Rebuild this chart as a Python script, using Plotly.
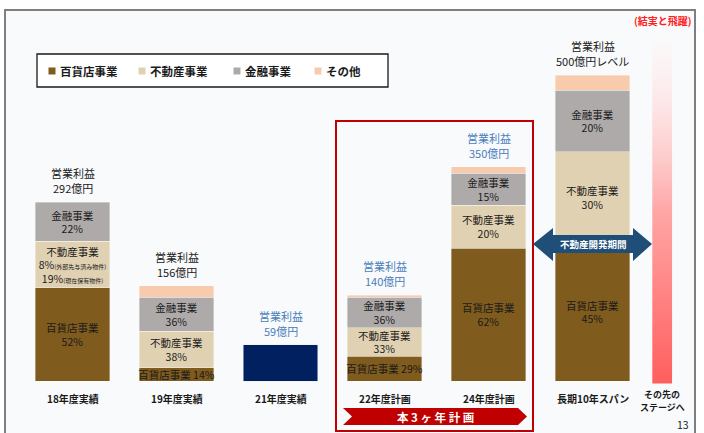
import plotly.graph_objects as go

# ---------------- data ----------------
categories = ["18年度実績", "19年度実績", "21年度実績", "22年度計画", "24年度計画", "長期10年スパン"]
totals = [292, 156, 59, 140, 350, 500]
total_head = ["営業利益"] * 6
total_values_text = ["292億円", "156億円", "59億円", "140億円", "350億円", "500億円レベル"]
total_label_colors = ["#1a1a1a", "#1a1a1a", "#4a7ebb", "#4a7ebb", "#4a7ebb", "#1a1a1a"]

series_names = ["百貨店事業", "不動産事業", "金融事業", "その他"]
series_colors = ["#7f5b1e", "#e0d1b2", "#aeaaaa", "#f8cbad"]

# segment values (億円)
dept = [152, 22, None, 40.6, 217, 225]
real = [76, 59, None, 46.2, 70, 150]
fin = [64, 56, None, 50.4, 52.5, 100]
other = [None, 19, None, 2.8, 10.5, 25]
result_21 = [None, None, 59, None, None, None]

dept_text = ["百貨店事業<br>52%", "百貨店事業 14%", "", "百貨店事業 29%", "百貨店事業<br>62%", "百貨店事業<br>45%"]
real_text = ["不動産事業<br>8%<span style='font-size:6px'>(外部先与済み物件)</span><br>19%<span style='font-size:6px'>(現在保有物件)</span>",
             "不動産事業<br>38%", "", "不動産事業<br>33%", "不動産事業<br>20%", "不動産事業<br>30%"]
fin_text = ["金融事業<br>22%", "金融事業<br>36%", "", "金融事業<br>36%", "金融事業<br>15%", "金融事業<br>20%"]
other_text = ["", "", "", "", "", ""]

next_stage_lines = ["その先の", "ステージへ"]
next_stage_x = 5.67
next_stage_height = 560

FONT = "Noto Sans CJK JP, Noto Sans, sans-serif"
W, H = 704, 433
BASE_PX = 381.0
PX_PER = 0.612
PITCH = 104.0
X0_PX = 72.5


def dx(px):
    return (px - X0_PX) / PITCH


def dy(py):
    return (BASE_PX - py) / PX_PER


def xp(px):
    return px / W


def yp(py):
    return 1 - py / H


xs = list(range(len(categories)))
fig = go.Figure()

seg_values = [dept, real, fin, other]
seg_texts = [dept_text, real_text, fin_text, other_text]
for name, color, vals, txt in zip(series_names, series_colors, seg_values, seg_texts):
    fig.add_trace(go.Bar(
        x=xs, y=vals, name=name, width=0.72,
        marker=dict(color=color, line=dict(color="rgba(255,255,255,0.6)", width=0.6)),
        text=txt, textposition="inside", insidetextanchor="middle", textangle=0,
        textfont=dict(family=FONT, size=10.5, color="#1a1a1a"),
        showlegend=False, hoverinfo="skip",
    ))

fig.add_trace(go.Bar(
    x=xs, y=result_21, name="21年度", width=0.72,
    marker=dict(color="#002060"), showlegend=False, hoverinfo="skip",
))

# gradient "next stage" bar
hw = 0.095
fig.add_trace(go.Scatter(
    x=[next_stage_x - hw, next_stage_x + hw, next_stage_x + hw, next_stage_x - hw, next_stage_x - hw],
    y=[-4, -4, next_stage_height, next_stage_height, -4],
    fill="toself", mode="none",
    fillgradient=dict(type="vertical",
                      colorscale=[[0, "#ff5e5e"], [0.5, "#ffa6a6"], [1, "rgba(255,245,245,0.3)"]]),
    showlegend=False, hoverinfo="skip",
))

annotations = []
# total labels (two lines as separate texts)
for x, t, head, val, col in zip(xs, totals, total_head, total_values_text, total_label_colors):
    annotations.append(dict(x=x, y=t, text=head, showarrow=False, xanchor="center", yanchor="middle",
                            yshift=29, font=dict(family=FONT, size=11, color=col)))
    annotations.append(dict(x=x, y=t, text=val, showarrow=False, xanchor="center", yanchor="middle",
                            yshift=14, font=dict(family=FONT, size=11, color=col)))
# category labels
for x, c in zip(xs, categories):
    annotations.append(dict(x=x, y=dy(398), text=c, showarrow=False, xanchor="center", yanchor="middle",
                            font=dict(family=FONT, size=10, color="#1a1a1a", weight="bold")))
for line, py in zip(next_stage_lines, [394, 407]):
    annotations.append(dict(x=next_stage_x, y=dy(py), text=line, showarrow=False,
                            xanchor="center", yanchor="middle",
                            font=dict(family=FONT, size=9, color="#1a1a1a", weight="bold")))

shapes = []
# slide frame
shapes.append(dict(type="rect", xref="paper", yref="paper", x0=xp(5), x1=xp(695), y0=-0.1, y1=yp(10),
                   line=dict(color="#7f7f7f", width=2), fillcolor="#f9fafc", layer="below"))
# custom legend
shapes.append(dict(type="rect", xref="paper", yref="paper", x0=xp(37), x1=xp(388), y0=yp(87), y1=yp(54),
                   line=dict(color="#1a1a1a", width=1.3), fillcolor="#ffffff", layer="below"))
legend_marker_px = [52, 142, 237, 318]
for name, color, mx in zip(series_names, series_colors, legend_marker_px):
    shapes.append(dict(type="rect", xref="paper", yref="paper", x0=xp(mx - 3.5), x1=xp(mx + 3.5),
                       y0=yp(74.5), y1=yp(67.5), line=dict(width=0), fillcolor=color))
    annotations.append(dict(xref="paper", yref="paper", x=xp(mx + 6), y=yp(71), text=name,
                            showarrow=False, xanchor="left", yanchor="middle",
                            font=dict(family=FONT, size=11.5, color="#1a1a1a", weight="bold")))

# red plan box
shapes.append(dict(type="rect", xref="paper", yref="paper", x0=xp(336), x1=xp(533), y0=yp(431), y1=yp(121),
                   line=dict(color="#c00000", width=2), fillcolor="rgba(0,0,0,0)"))
# banner
bx0, bx1, by0, by1 = 343, 527, 408, 425
bym = (by0 + by1) / 2
path = (f"M{xp(bx0)},{yp(by0)} L{xp(bx1 - 9)},{yp(by0)} L{xp(bx1)},{yp(bym)} L{xp(bx1 - 9)},{yp(by1)} "
        f"L{xp(bx0)},{yp(by1)} L{xp(bx0 + 9)},{yp(bym)} Z")
shapes.append(dict(type="path", xref="paper", yref="paper", path=path, fillcolor="#c00000",
                   line=dict(width=0)))
annotations.append(dict(xref="paper", yref="paper", x=xp(435), y=yp(416.5), text="本 3 ヶ 年 計 画",
                        showarrow=False, xanchor="center", yanchor="middle",
                        font=dict(family=FONT, size=11.5, color="white", weight="bold")))

# double arrow
ay0, ay1, am = 235, 253, 244
ah0, ah1 = 228, 261
lx, rx, lh, rh = 533, 652, 553, 633
apath = (f"M{xp(lx)},{yp(am)} L{xp(lh)},{yp(ah0)} L{xp(lh)},{yp(ay0)} L{xp(rh)},{yp(ay0)} "
         f"L{xp(rh)},{yp(ah0)} L{xp(rx)},{yp(am)} L{xp(rh)},{yp(ah1)} L{xp(rh)},{yp(ay1)} "
         f"L{xp(lh)},{yp(ay1)} L{xp(lh)},{yp(ah1)} Z")
shapes.append(dict(type="path", xref="paper", yref="paper", path=apath, fillcolor="#1f4e79",
                   line=dict(width=0)))
annotations.append(dict(xref="paper", yref="paper", x=xp(593), y=yp(244), text="不動産開発期間",
                        showarrow=False, xanchor="center", yanchor="middle",
                        font=dict(family=FONT, size=9.5, color="white", weight="bold")))

# top-right note and page number
annotations.append(dict(xref="paper", yref="paper", x=xp(694), y=yp(20), text="(結実と飛躍)",
                        showarrow=False, xanchor="right", yanchor="middle",
                        font=dict(family=FONT, size=10, color="#ff2020", weight="bold")))
annotations.append(dict(xref="paper", yref="paper", x=xp(691), y=yp(424), text="13",
                        showarrow=False, xanchor="right", yanchor="middle",
                        font=dict(family=FONT, size=10.5, color="#1a1a1a")))

fig.update_layout(
    width=W, height=H, margin=dict(l=0, r=0, t=0, b=0),
    paper_bgcolor="#ffffff", plot_bgcolor="rgba(0,0,0,0)",
    barmode="stack",
    font=dict(family=FONT),
    xaxis=dict(range=[dx(0), dx(W)], visible=False, fixedrange=True),
    yaxis=dict(range=[dy(H), dy(0)], visible=False, fixedrange=True),
    uniformtext=dict(minsize=10.5, mode="show"),
    shapes=shapes, annotations=annotations, showlegend=False,
)

fig.write_html("out.html")
